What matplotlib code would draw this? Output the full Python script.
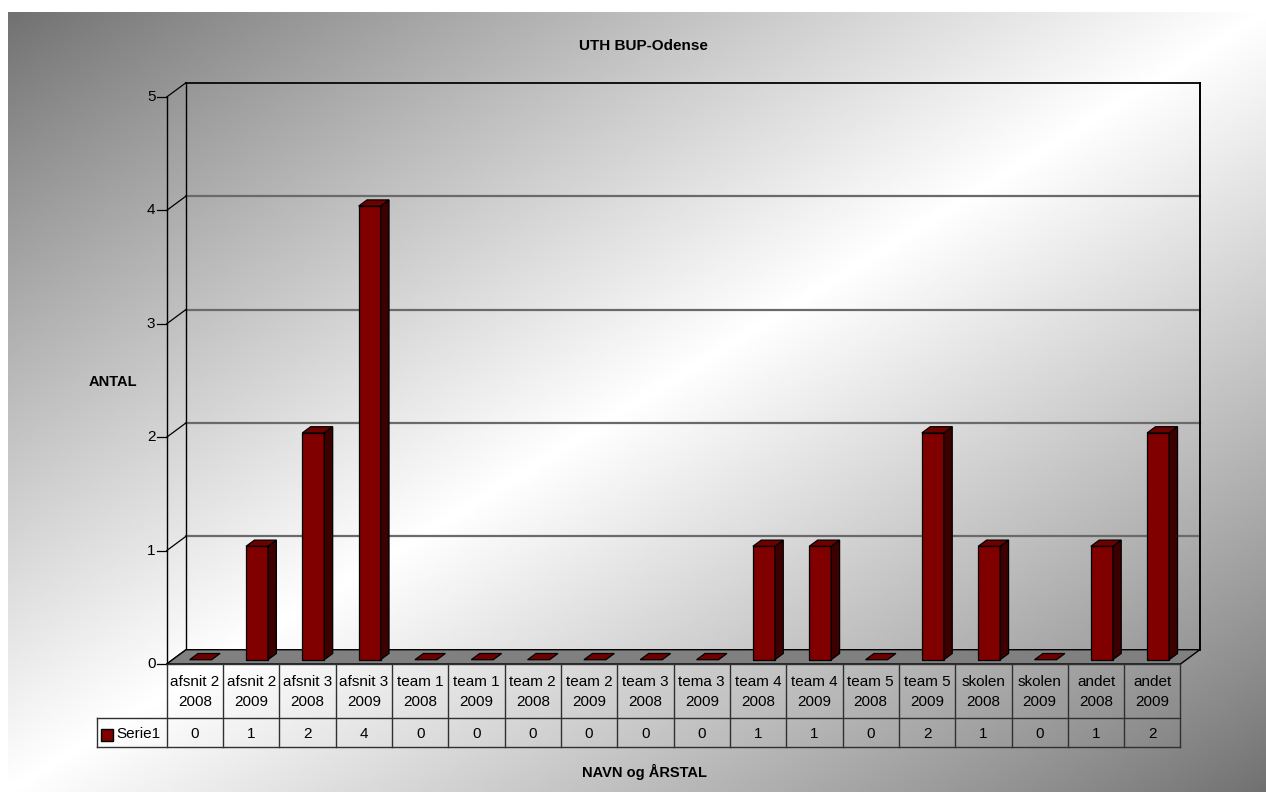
import numpy as np
import matplotlib.pyplot as plt
from matplotlib.patches import Polygon
from matplotlib import font_manager

# data
kategorier = ['afsnit 2\n2008', 'afsnit 2\n2009', 'afsnit 3\n2008', 'afsnit 3\n2009',
              'team 1\n2008', 'team 1\n2009', 'team 2\n2008', 'team 2\n2009',
              'team 3\n2008', 'tema 3\n2009', 'team 4\n2008', 'team 4\n2009',
              'team 5\n2008', 'team 5\n2009', 'skolen\n2008', 'skolen\n2009',
              'andet\n2008', 'andet\n2009']
antal = [0, 1, 2, 4, 0, 0, 0, 0, 0, 0, 1, 1, 0, 2, 1, 0, 1, 2]
y_ticks = [0, 1, 2, 3, 4, 5]
serie_navn = 'Serie1'
titel = 'UTH BUP-Odense'
y_titel = 'ANTAL'
x_titel = 'NAVN og ÅRSTAL'

W, H = 1266, 792
names = {f.name for f in font_manager.fontManager.ttflist}
if 'Liberation Sans Narrow' in names:
    small_font, small_size = 'Liberation Sans Narrow', 12
else:
    small_font, small_size = 'Liberation Sans', 11
bold_font = 'Liberation Sans'

fig = plt.figure(figsize=(W / 100, H / 100), dpi=100)
fig.patch.set_facecolor('white')

# gradient background
bg = fig.add_axes([8 / W, 0, 1 - 8 / W, (H - 12) / H])
U, V = np.meshgrid(np.linspace(0, 1, 500), np.linspace(0, 1, 320))
t = 1 - np.abs(U + V - 1)
shade = 0.44 + 0.56 * t ** 0.9
bg.imshow(shade, cmap='gray', vmin=0, vmax=1, aspect='auto', interpolation='bilinear')
bg.axis('off')

# plot area: front plane of the 3d box
n = len(kategorier)
ax = fig.add_axes([166.7 / W, (H - 664) / H, 1013.8 / W, 567 / H])
ax.set_xlim(0, n)
ax.set_ylim(0, 5)
ax.axis('off')
ax.patch.set_alpha(0)

DX, DY = 0.343, 0.126   # depth of the box in data units
ymax = y_ticks[-1]

# floor
ax.add_patch(Polygon([(0, 0), (n, 0), (n + DX, DY), (DX, DY)], closed=True,
                     facecolor='#808080', edgecolor='black', lw=1, clip_on=False, zorder=2))

# back wall grid
for k in y_ticks[1:-1]:
    ax.plot([DX, n + DX], [k + DY, k + DY], color='#6a6a6a', lw=1.6, clip_on=False, zorder=1)
ax.plot([DX, n + DX], [ymax + DY, ymax + DY], color='#111111', lw=1.4, clip_on=False, zorder=1)
ax.plot([DX, DX], [DY, ymax + DY], color='black', lw=1, clip_on=False, zorder=1)
ax.plot([n + DX, n + DX], [DY, ymax + DY], color='black', lw=1.4, clip_on=False, zorder=1)
for k in y_ticks:
    ax.plot([0, DX], [k, k + DY], color='black', lw=0.9, clip_on=False, zorder=1)
    ax.plot([-0.178, 0], [k, k], color='black', lw=0.9, clip_on=False, zorder=3)
    ax.text(-0.2, k, str(k), ha='right', va='center', family=small_font, fontsize=small_size)
ax.plot([0, 0], [0, ymax], color='black', lw=1, clip_on=False, zorder=3)

# bars
f0 = 0.3
d = 0.435
bw = 0.39
for i, v in enumerate(antal):
    xl = i + 0.408
    xr = xl + bw
    b = DY * f0
    top = v + b
    ddx, ddy = DX * d, DY * d
    if v > 0:
        ax.add_patch(Polygon([(xl, b), (xr, b), (xr, top), (xl, top)], closed=True,
                             facecolor='#800000', edgecolor='black', lw=0.9, clip_on=False, zorder=4))
        ax.add_patch(Polygon([(xr, b), (xr + ddx, b + ddy), (xr + ddx, top + ddy), (xr, top)],
                             closed=True, facecolor='#3d0000', edgecolor='black', lw=0.9,
                             clip_on=False, zorder=4))
    ax.add_patch(Polygon([(xl, top), (xr, top), (xr + ddx, top + ddy), (xl + ddx, top + ddy)],
                         closed=True, facecolor='#6e0000', edgecolor='black', lw=0.9,
                         clip_on=False, zorder=5))

# data table
r1 = -54 / 113.4
r2 = -83 / 113.4
leg_x = -1.238
lc = '#303030'
ax.plot([0, n], [0, 0], color=lc, lw=1, clip_on=False, zorder=3)
ax.plot([leg_x, n], [r1, r1], color=lc, lw=1, clip_on=False)
ax.plot([leg_x, n], [r2, r2], color=lc, lw=1, clip_on=False)
ax.plot([leg_x, leg_x], [r1, r2], color=lc, lw=1, clip_on=False)
for i in range(n + 1):
    ax.plot([i, i], [0, r2], color=lc, lw=1, clip_on=False)
for i, (lab, v) in enumerate(zip(kategorier, antal)):
    ax.text(i + 0.5, -28 / 113.4, lab, ha='center', va='center', family=small_font,
            fontsize=small_size, linespacing=1.6)
    ax.text(i + 0.5, -70 / 113.4, str(v), ha='center', va='center', family=small_font,
            fontsize=small_size)
ax.add_patch(Polygon([(leg_x + 0.075, -65 / 113.4), (leg_x + 0.285, -65 / 113.4),
                      (leg_x + 0.285, -77 / 113.4), (leg_x + 0.075, -77 / 113.4)], closed=True,
                     facecolor='#800000', edgecolor='black', lw=1, clip_on=False))
ax.text(leg_x + 0.35, -70 / 113.4, serie_navn, ha='left', va='center', family=small_font,
        fontsize=small_size)

# titles
fig.text(643 / W, 1 - 46 / H, titel, ha='center', va='center', family=bold_font,
         fontweight='bold', fontsize=11)
fig.text(113 / W, 1 - 382 / H, y_titel, ha='center', va='center', family=bold_font,
         fontweight='bold', fontsize=10.5)
fig.text(644 / W, 1 - 772 / H, x_titel, ha='center', va='center', family=bold_font,
         fontweight='bold', fontsize=10.5)

fig.savefig('out.png', dpi=100)
